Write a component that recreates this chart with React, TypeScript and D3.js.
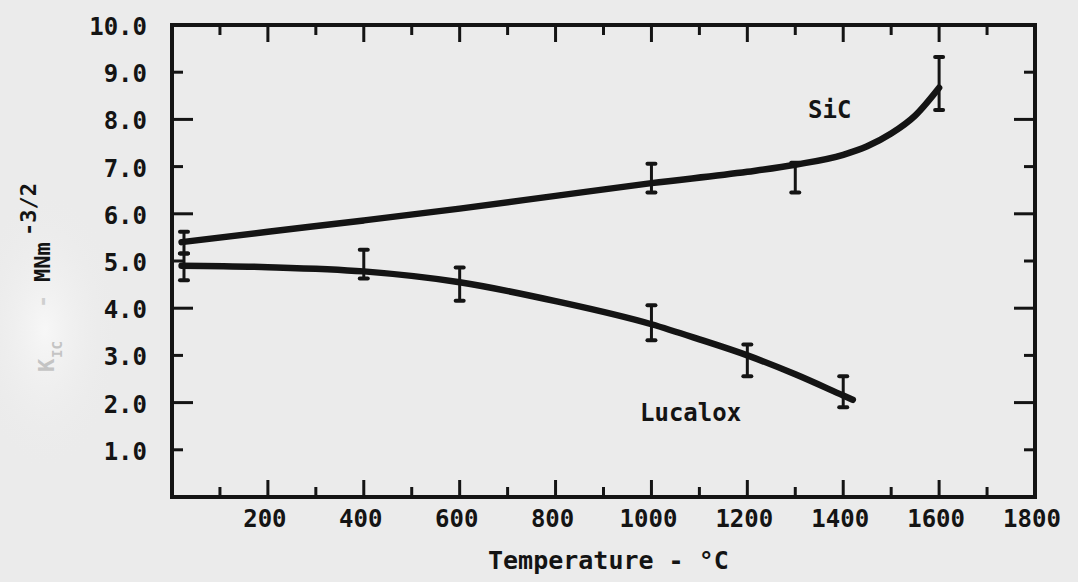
import React from "react";
import * as d3 from "d3";

// ---- data ----
const tempTicks = [200, 400, 600, 800, 1000, 1200, 1400, 1600, 1800];
const tempMinorTicks = [100, 300, 500, 700, 900, 1100, 1300, 1500, 1700];
const kTicks = [1, 2, 3, 4, 5, 6, 7, 8, 9, 10];

// SiC measured points (error bars)
const sicT = [25, 1000, 1300, 1600];
const sicLo = [5.16, 6.45, 6.45, 8.2];
const sicHi = [5.62, 7.06, 7.08, 9.32];
const sicCurveT = [20, 200, 400, 600, 800, 1000, 1200, 1300, 1400, 1450, 1500, 1550, 1600];
const sicCurveK = [5.4, 5.62, 5.86, 6.11, 6.38, 6.65, 6.89, 7.04, 7.25, 7.43, 7.7, 8.08, 8.67];

// Lucalox measured points (error bars)
const lucT = [25, 400, 600, 1000, 1200, 1400];
const lucLo = [4.59, 4.63, 4.16, 3.32, 2.56, 1.9];
const lucHi = [5.16, 5.24, 4.86, 4.06, 3.23, 2.56];
const lucCurveT = [20, 200, 400, 600, 800, 1000, 1100, 1200, 1300, 1400, 1420];
const lucCurveK = [4.9, 4.87, 4.78, 4.55, 4.15, 3.66, 3.34, 3.0, 2.6, 2.15, 2.06];

const W = 1078;
const H = 582;
const INK = "#141414";
const FONT = "'DejaVu Sans Mono', 'Liberation Mono', monospace";

export default function App() {
  const x = d3.scaleLinear().domain([0, 1800]).range([172, 1035]);
  const y = d3.scaleLinear().domain([0, 10]).range([497, 25]);

  const line = d3
    .line<[number, number]>()
    .x((d) => x(d[0]))
    .y((d) => y(d[1]))
    .curve(d3.curveMonotoneX);

  const sicPts = sicCurveT.map((t, i) => [t, sicCurveK[i]] as [number, number]);
  const lucPts = lucCurveT.map((t, i) => [t, lucCurveK[i]] as [number, number]);

  const errBars = (ts: number[], lo: number[], hi: number[], key: string) =>
    ts.map((t, i) => {
      const cx = x(t);
      return (
        <g key={key + i}>
          <line x1={cx} x2={cx} y1={y(lo[i])} y2={y(hi[i])} stroke={INK} strokeWidth={3} />
          <line x1={cx - 4} x2={cx + 4} y1={y(lo[i])} y2={y(lo[i])} stroke={INK} strokeWidth={4} strokeLinecap="round" />
          <line x1={cx - 4} x2={cx + 4} y1={y(hi[i])} y2={y(hi[i])} stroke={INK} strokeWidth={4} strokeLinecap="round" />
        </g>
      );
    });

  const [x0, x1] = x.range();
  const [y0, y1] = y.range();

  return (
    <svg
      width={W}
      height={H}
      style={{ position: "fixed", left: 0, top: 0, display: "block" }}
      fontFamily={FONT}
      fontWeight="bold"
    >
      <defs>
        <radialGradient id="patch" cx="0.5" cy="0.5" r="0.5">
          <stop offset="0%" stopColor="#f7f7f7" />
          <stop offset="100%" stopColor="#ebebeb" stopOpacity={0} />
        </radialGradient>
      </defs>
      <rect width={W} height={H} fill="#ebebeb" />
      <ellipse cx={45} cy={330} rx={75} ry={140} fill="url(#patch)" />

      {/* frame */}
      <rect x={x0} y={y1} width={x1 - x0} height={y0 - y1} fill="none" stroke={INK} strokeWidth={4} />

      {/* x ticks top & bottom */}
      {tempTicks.concat(tempMinorTicks).filter((t) => t < 1800).map((t) => {
        const len = t % 200 === 0 ? 17 : 10;
        return (
          <g key={"xt" + t}>
            <line x1={x(t)} x2={x(t)} y1={y0} y2={y0 - len} stroke={INK} strokeWidth={3} />
            <line x1={x(t)} x2={x(t)} y1={y1} y2={y1 + len} stroke={INK} strokeWidth={3} />
          </g>
        );
      })}
      {/* y ticks left & right */}
      {kTicks.filter((k) => k < 10).map((k) => {
        const len = k % 2 === 0 ? 21 : 11;
        return (
          <g key={"yt" + k}>
            <line x1={x0} x2={x0 + len} y1={y(k)} y2={y(k)} stroke={INK} strokeWidth={3} />
            <line x1={x1} x2={x1 - len} y1={y(k)} y2={y(k)} stroke={INK} strokeWidth={3} />
          </g>
        );
      })}

      {/* tick labels */}
      {tempTicks.map((t) => (
        <text key={"xl" + t} x={x(t) - 3} y={527} textAnchor="middle" fontSize={24} fill={INK}>
          {t}
        </text>
      ))}
      {kTicks.map((k) => (
        <text key={"yl" + k} x={147} y={y(k) + 10} textAnchor="end" fontSize={24} fill={INK}>
          {k.toFixed(1)}
        </text>
      ))}

      {/* axis titles */}
      <text x={488} y={569} fontSize={25} fill={INK}>
        Temperature - °C
      </text>
      <text transform="translate(54,372) rotate(-90)" fontSize={22} fill="#c4c4c4">K</text>
      <text transform="translate(62,358) rotate(-90)" fontSize={14} fill="#c4c4c4">IC</text>
      <text transform="translate(50,308) rotate(-90)" fontSize={22} fill="#cfcfcf">-</text>
      <text transform="translate(50,282) rotate(-90)" fontSize={22} fill={INK}>MNm</text>
      <text transform="translate(36,236) rotate(-90)" fontSize={22} fill={INK}>-3/2</text>

      {/* curves */}
      <path d={line(sicPts) || ""} fill="none" stroke={INK} strokeWidth={6.5} strokeLinecap="round" />
      <path d={line(lucPts) || ""} fill="none" stroke={INK} strokeWidth={6.5} strokeLinecap="round" />

      {/* error bars */}
      {errBars(sicT, sicLo, sicHi, "s")}
      {errBars(lucT, lucLo, lucHi, "l")}

      {/* series labels */}
      <text x={808} y={118} fontSize={24} fill={INK}>SiC</text>
      <text x={640} y={421} fontSize={24} fill={INK}>Lucalox</text>
    </svg>
  );
}
